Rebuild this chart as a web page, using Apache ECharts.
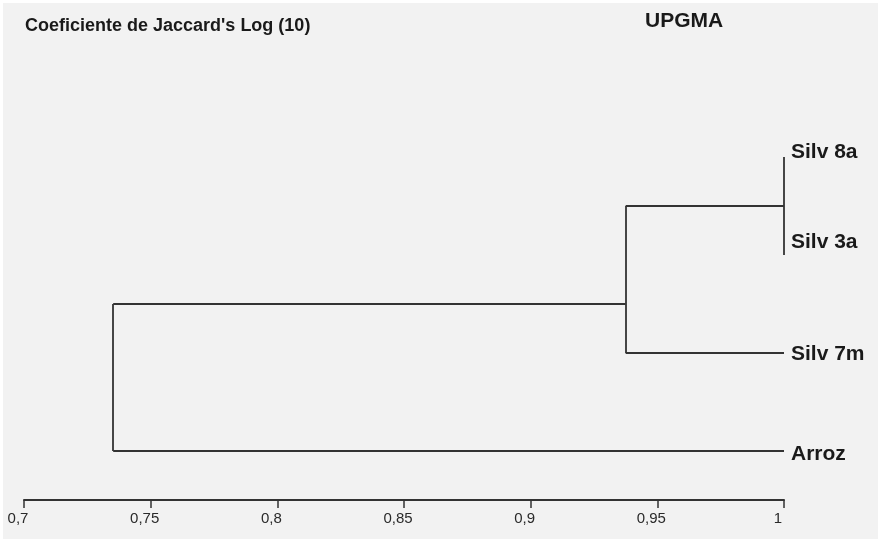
<!DOCTYPE html>
<html>
<head>
<meta charset="utf-8">
<script src="https://cdn.jsdelivr.net/npm/echarts@6/dist/echarts.min.js"></script>
<style>
  html, body { margin: 0; padding: 0; background: #ffffff; }
  #chart { position: absolute; left: 3px; top: 3px; width: 875px; height: 536px; background: #f2f2f2; }
</style>
</head>
<body>
<div id="chart"></div>
<script>
// ---- Data ----
const titleText = "Coeficiente de Jaccard's Log (10)";
const methodText = "UPGMA";
const leafNames = ['Silv 8a', 'Silv 3a', 'Silv 7m', 'Arroz'];
const leafRows = [0, 1, 2, 3];
const leafHeight = 1.0;
const nodeNames = ['A', 'B', 'Root'];
const nodeChildren = [['Silv 8a', 'Silv 3a'], ['A', 'Silv 7m'], ['B', 'Arroz']];
const nodeHeights = [1.0, 0.9375, 0.7352];
const nodeRows = [0.5, 1.5, 2.25];
const tickValues = [0.7, 0.75, 0.8, 0.85, 0.9, 0.95, 1];

// ---- Build segments ----
const pos = {};
leafNames.forEach((n, i) => { pos[n] = { h: leafHeight, r: leafRows[i] }; });
nodeNames.forEach((n, i) => { pos[n] = { h: nodeHeights[i], r: nodeRows[i] }; });

const segs = [];
nodeNames.forEach((n, i) => {
  const h = nodeHeights[i];
  const ch = nodeChildren[i].map(c => pos[c]);
  const rs = ch.map(c => c.r);
  segs.push({ coords: [[h, Math.min(...rs)], [h, Math.max(...rs)]] });
  ch.forEach(c => {
    if (c.h !== h) segs.push({ coords: [[h, c.r], [c.h, c.r]] });
  });
});

const labelOffsets = [[0, -5], [0, -13], [0, 1], [0, 3]];
const leafData = leafNames.map((n, i) => ({
  value: [leafHeight, leafRows[i]],
  name: n,
  label: { offset: labelOffsets[i] }
}));

const chart = echarts.init(document.getElementById('chart'));
chart.setOption({
  backgroundColor: '#f2f2f2',
  animation: false,
  title: [
    {
      text: titleText, left: 22, top: 13, padding: 0,
      textStyle: { fontFamily: 'Liberation Sans, Arial, sans-serif', fontSize: 18, fontWeight: 'bold', color: '#1a1a1a', lineHeight: 21 }
    },
    {
      text: methodText, left: 642, top: 6, padding: 0,
      textStyle: { fontFamily: 'Liberation Sans, Arial, sans-serif', fontSize: 21, fontWeight: 'bold', color: '#1a1a1a', lineHeight: 24 }
    }
  ],
  grid: { left: 21, top: 56, width: 760, height: 441, containLabel: false },
  xAxis: {
    type: 'value', min: 0.7, max: 1, interval: 0.05,
    splitLine: { show: false },
    axisLine: { onZero: false, lineStyle: { color: '#333', width: 2 } },
    axisTick: { show: true, length: 8, lineStyle: { color: '#333', width: 1.5 } },
    axisLabel: {
      margin: 11, color: '#2a2a2a', fontSize: 15,
      fontFamily: 'Liberation Sans, Arial, sans-serif',
      padding: [0, 12, 0, 0],
      formatter: v => String(+v.toFixed(2)).replace('.', ','),
      showMinLabel: true, showMaxLabel: true
    }
  },
  yAxis: {
    type: 'value', inverse: true, min: -1, max: 3.5, show: false
  },
  series: [
    {
      type: 'lines', coordinateSystem: 'cartesian2d', polyline: false,
      lineStyle: { color: '#333333', width: 1.8, opacity: 1 },
      data: segs, silent: true
    },
    {
      type: 'scatter', symbolSize: 0, data: leafData, silent: true,
      itemStyle: { opacity: 1 },
      label: {
        show: true, position: 'right', distance: 7,
        formatter: p => p.name,
        fontFamily: 'Liberation Sans, Arial, sans-serif',
        fontSize: 21, fontWeight: 'bold', color: '#1a1a1a'
      }
    }
  ]
});
</script>
</body>
</html>
